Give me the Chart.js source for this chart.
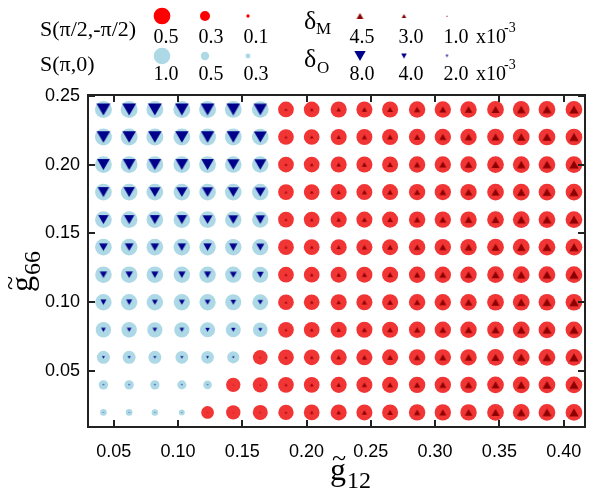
<!DOCTYPE html>
<html>
<head>
<meta charset="utf-8">
<script src="https://cdn.jsdelivr.net/npm/chart.js@4.4.0/dist/chart.umd.min.js"></script>
<style>
  body { margin: 0; background: #ffffff; }
  #contenedor { width: 598px; height: 492px; }
</style>
</head>
<body>
<div id="contenedor"><canvas id="mapa" width="598" height="492"></canvas></div>
<script>
// Rejilla de puntos
var xValues = [0.042, 0.062, 0.082, 0.103, 0.123, 0.143, 0.164, 0.184, 0.204, 0.225, 0.245, 0.265, 0.286, 0.306, 0.326, 0.347, 0.367, 0.387, 0.408];
var yValues = [0.24, 0.22, 0.20, 0.18, 0.16, 0.14, 0.12, 0.10, 0.08, 0.06, 0.04, 0.02];

// Nº de columnas (desde la izquierda) en fase S(π,0) para cada fila
var blueCols = [7, 7, 7, 7, 7, 7, 7, 7, 7, 6, 5, 4];

// Valor de S en cada punto: S(π,0) en la zona azul, S(π/2,-π/2) en la roja
var sValues = [
  [1.02, 1.02, 1.02, 1.02, 1.02, 1.01, 1.00, 0.47, 0.47, 0.48, 0.48, 0.48, 0.49, 0.49, 0.49, 0.50, 0.50, 0.50, 0.50],
  [1.02, 1.02, 1.02, 1.01, 1.01, 1.01, 1.00, 0.47, 0.47, 0.48, 0.48, 0.48, 0.49, 0.49, 0.49, 0.50, 0.50, 0.50, 0.50],
  [1.01, 1.01, 1.01, 1.01, 1.01, 1.00, 0.99, 0.47, 0.47, 0.48, 0.48, 0.48, 0.49, 0.49, 0.49, 0.50, 0.50, 0.50, 0.50],
  [1.01, 1.01, 1.01, 1.00, 1.00, 1.00, 0.99, 0.47, 0.47, 0.48, 0.48, 0.48, 0.49, 0.49, 0.49, 0.50, 0.50, 0.50, 0.50],
  [1.01, 1.01, 1.00, 1.00, 1.00, 0.99, 0.98, 0.47, 0.47, 0.48, 0.48, 0.48, 0.49, 0.49, 0.49, 0.50, 0.50, 0.50, 0.50],
  [1.00, 1.00, 1.00, 1.00, 0.99, 0.99, 0.98, 0.47, 0.47, 0.48, 0.48, 0.48, 0.49, 0.49, 0.49, 0.50, 0.50, 0.50, 0.50],
  [1.00, 1.00, 1.00, 0.99, 0.99, 0.98, 0.97, 0.47, 0.47, 0.48, 0.48, 0.48, 0.49, 0.49, 0.49, 0.50, 0.50, 0.50, 0.50],
  [0.99, 0.99, 0.99, 0.98, 0.98, 0.97, 0.95, 0.47, 0.47, 0.48, 0.48, 0.48, 0.49, 0.49, 0.49, 0.50, 0.50, 0.50, 0.50],
  [0.93, 0.93, 0.92, 0.92, 0.91, 0.90, 0.88, 0.47, 0.47, 0.48, 0.48, 0.48, 0.49, 0.49, 0.49, 0.50, 0.50, 0.50, 0.50],
  [0.78, 0.78, 0.78, 0.77, 0.76, 0.73, 0.44, 0.47, 0.47, 0.48, 0.48, 0.48, 0.49, 0.49, 0.49, 0.50, 0.50, 0.50, 0.50],
  [0.57, 0.57, 0.56, 0.55, 0.52, 0.43, 0.45, 0.47, 0.47, 0.48, 0.48, 0.48, 0.49, 0.49, 0.49, 0.50, 0.50, 0.50, 0.50],
  [0.40, 0.40, 0.39, 0.35, 0.38, 0.43, 0.45, 0.46, 0.47, 0.48, 0.48, 0.48, 0.49, 0.49, 0.49, 0.50, 0.50, 0.50, 0.50]
];

// Valor de delta (x10^-3): δO en la zona azul, δM en la roja
var deltaValues = [
  [9.8, 9.8, 9.8, 9.7, 9.7, 9.6, 9.4, 1.8, 2.4, 2.9, 3.4, 3.8, 4.2, 4.6, 5.0, 5.3, 5.6, 5.9, 6.2],
  [9.5, 9.5, 9.5, 9.4, 9.4, 9.3, 9.1, 1.8, 2.4, 2.9, 3.4, 3.8, 4.2, 4.6, 5.0, 5.3, 5.6, 5.9, 6.2],
  [8.9, 8.9, 8.9, 8.8, 8.8, 8.7, 8.5, 1.8, 2.4, 2.9, 3.4, 3.8, 4.2, 4.6, 5.0, 5.3, 5.6, 5.9, 6.2],
  [8.0, 8.0, 7.9, 7.9, 7.8, 7.7, 7.5, 1.8, 2.4, 2.9, 3.4, 3.8, 4.2, 4.6, 5.0, 5.3, 5.6, 5.9, 6.2],
  [7.3, 7.3, 7.2, 7.2, 7.1, 7.0, 6.8, 1.8, 2.4, 2.9, 3.4, 3.8, 4.2, 4.6, 5.0, 5.3, 5.6, 5.9, 6.2],
  [6.2, 6.2, 6.1, 6.1, 6.0, 5.9, 5.7, 1.8, 2.4, 2.9, 3.4, 3.8, 4.2, 4.6, 5.0, 5.3, 5.6, 5.9, 6.2],
  [5.3, 5.3, 5.2, 5.2, 5.1, 5.0, 4.8, 1.8, 2.4, 2.9, 3.4, 3.8, 4.2, 4.6, 5.0, 5.3, 5.6, 5.9, 6.2],
  [4.3, 4.3, 4.2, 4.2, 4.1, 4.0, 3.8, 1.8, 2.4, 2.9, 3.4, 3.8, 4.2, 4.6, 5.0, 5.3, 5.6, 5.9, 6.2],
  [3.4, 3.4, 3.3, 3.3, 3.2, 3.1, 2.9, 1.8, 2.4, 2.9, 3.4, 3.8, 4.2, 4.6, 5.0, 5.3, 5.6, 5.9, 6.2],
  [2.1, 2.1, 2.0, 2.0, 1.9, 1.8, 1.1, 1.8, 2.4, 2.9, 3.4, 3.8, 4.2, 4.6, 5.0, 5.3, 5.6, 5.9, 6.2],
  [1.3, 1.3, 1.2, 1.2, 1.1, 0.9, 1.1, 1.8, 2.4, 2.9, 3.4, 3.8, 4.2, 4.6, 5.0, 5.3, 5.6, 5.9, 6.2],
  [0.8, 0.8, 0.7, 0.7, 0.7, 0.9, 1.1, 1.7, 2.3, 2.9, 3.4, 3.8, 4.2, 4.6, 5.0, 5.3, 5.6, 5.9, 6.2]
];

// Marcas de los ejes
var xTicks = [0.05, 0.10, 0.15, 0.20, 0.25, 0.30, 0.35, 0.40];
var yTicks = [0.05, 0.10, 0.15, 0.20, 0.25];

// Valores de la leyenda
var legendRed = [0.5, 0.3, 0.1];
var legendBlue = [1.0, 0.5, 0.3];
var legendDeltaM = [4.5, 3.0, 1.0];
var legendDeltaO = [8.0, 4.0, 2.0];

// Tamaño de los símbolos según el valor
function radioRojo(s) { return 16.7 * s; }
function radioAzul(s) { return 8.3 * s; }
function radioDeltaM(d) { return 0.87 * d; }
function radioDeltaO(d) { return 0.82 * d; }

var colorRojo = "rgba(240, 30, 30, 0.9)";
var colorAzul = "#add8e6";
var colorDeltaM = "#8b0000";
var colorDeltaO = "#00008b";

// Triángulos centrados (los de Chart.js quedan desplazados), se guardan en caché
var cacheTriangulos = {};
function trianguloCanvas(radio, haciaAbajo, color) {
  var clave = radio.toFixed(2) + (haciaAbajo ? "a" : "b") + color;
  if (cacheTriangulos[clave]) return cacheTriangulos[clave];
  var ancho = Math.sqrt(3) * radio;
  var alto = 1.5 * radio;
  var cw = Math.ceil(ancho) + 2;
  var ch = Math.ceil(alto) + 2;
  var c = document.createElement("canvas");
  c.width = cw;
  c.height = ch;
  var g = c.getContext("2d");
  var x0 = (cw - ancho) / 2;
  var y0 = (ch - alto) / 2;
  g.fillStyle = color;
  g.beginPath();
  if (haciaAbajo) {
    g.moveTo(x0, y0);
    g.lineTo(x0 + ancho, y0);
    g.lineTo(x0 + ancho / 2, y0 + alto);
  } else {
    g.moveTo(x0, y0 + alto);
    g.lineTo(x0 + ancho, y0 + alto);
    g.lineTo(x0 + ancho / 2, y0);
  }
  g.closePath();
  g.fill();
  cacheTriangulos[clave] = c;
  return c;
}

// Separamos los puntos en las cuatro series
function construyeSeries() {
  var rojos = [], azules = [], deltaM = [], deltaO = [];
  yValues.forEach(function (y, fila) {
    xValues.forEach(function (x, col) {
      var s = sValues[fila][col];
      var d = deltaValues[fila][col];
      if (col < blueCols[fila]) {
        azules.push({ x: x, y: y, v: s });
        deltaO.push({ x: x, y: y, v: d });
      } else {
        rojos.push({ x: x, y: y, v: s });
        deltaM.push({ x: x, y: y, v: d });
      }
    });
  });
  return { rojos: rojos, azules: azules, deltaM: deltaM, deltaO: deltaO };
}

function dibujaSimbolo(ctx, estilo, radio, x, y, color) {
  ctx.fillStyle = color;
  Chart.helpers.drawPoint(ctx, { pointStyle: estilo, radius: radio, rotation: 0, borderWidth: 0 }, x, y);
}

// Marco, marcas interiores, leyenda y títulos de los ejes
var marcoPlugin = {
  id: "marco",
  afterDraw: function (chart) {
    var ctx = chart.ctx;
    var area = chart.chartArea;
    var xs = chart.scales.x;
    var ys = chart.scales.y;
    ctx.save();

    ctx.strokeStyle = "#222222";
    ctx.lineWidth = 2;
    ctx.strokeRect(area.left, area.top, area.right - area.left, area.bottom - area.top);
    ctx.beginPath();
    xTicks.forEach(function (v) {
      var px = Math.round(xs.getPixelForValue(v));
      ctx.moveTo(px, area.bottom); ctx.lineTo(px, area.bottom - 7);
      ctx.moveTo(px, area.top); ctx.lineTo(px, area.top + 7);
    });
    yTicks.forEach(function (v) {
      var py = Math.round(ys.getPixelForValue(v));
      ctx.moveTo(area.left, py); ctx.lineTo(area.left + 7, py);
      ctx.moveTo(area.right, py); ctx.lineTo(area.right - 7, py);
    });
    ctx.stroke();

    // Leyenda de arriba
    var colsIzq = [162, 205, 248];
    var colsDer = [360, 404, 447];
    var textosIzq = [166, 211, 256];
    var textosDer = [362, 411, 456];

    ctx.fillStyle = "#000000";
    ctx.textBaseline = "alphabetic";
    ctx.textAlign = "left";
    ctx.font = '22px "Liberation Serif"';
    ctx.fillText("S(π/2,-π/2)", 40, 36);
    ctx.fillText("S(π,0)", 40, 71);

    legendRed.forEach(function (v, i) {
      dibujaSimbolo(ctx, "circle", radioRojo(v), colsIzq[i], 16, "#ff0000");
    });
    legendBlue.forEach(function (v, i) {
      dibujaSimbolo(ctx, "circle", radioAzul(v), colsIzq[i], 56, colorAzul);
    });
    legendDeltaM.forEach(function (v, i) {
      dibujaSimbolo(ctx, trianguloCanvas(radioDeltaM(v), false, colorDeltaM), 1, colsDer[i], 16, colorDeltaM);
    });
    legendDeltaO.forEach(function (v, i) {
      dibujaSimbolo(ctx, trianguloCanvas(radioDeltaO(v), true, colorDeltaO), 1, colsDer[i], 56, colorDeltaO);
    });

    ctx.fillStyle = "#000000";
    ctx.textAlign = "center";
    ctx.font = '20px "Liberation Serif"';
    legendRed.forEach(function (v, i) { ctx.fillText(v.toFixed(1), textosIzq[i], 43); });
    legendBlue.forEach(function (v, i) { ctx.fillText(v.toFixed(1), textosIzq[i], 80); });
    legendDeltaM.forEach(function (v, i) { ctx.fillText(v.toFixed(1), textosDer[i], 43); });
    legendDeltaO.forEach(function (v, i) { ctx.fillText(v.toFixed(1), textosDer[i], 80); });

    ctx.textAlign = "left";
    ctx.fillText("x10", 476, 43);
    ctx.fillText("x10", 476, 80);
    ctx.font = '14px "Liberation Serif"';
    ctx.fillText("-3", 504, 32);
    ctx.fillText("-3", 504, 69);

    ctx.font = '26px "Liberation Serif"';
    ctx.fillText("δ", 304, 29);
    ctx.fillText("δ", 304, 67);
    ctx.font = '17px "Liberation Serif"';
    ctx.fillText("M", 316, 34);
    ctx.fillText("O", 317, 73);

    // Título del eje x
    ctx.font = '32px "Liberation Serif"';
    ctx.fillText("g", 330, 480);
    ctx.font = '24px "Liberation Serif"';
    ctx.fillText("12", 347, 488);
    ctx.font = '26px "Liberation Serif"';
    ctx.textAlign = "center";
    ctx.fillText("~", 339, 466);

    // Título del eje y (girado)
    ctx.translate(32, 292);
    ctx.rotate(-Math.PI / 2);
    ctx.textAlign = "left";
    ctx.font = '32px "Liberation Serif"';
    ctx.fillText("g", 0, 0);
    ctx.font = '24px "Liberation Serif"';
    ctx.fillText("66", 17, 8);
    ctx.font = '26px "Liberation Serif"';
    ctx.textAlign = "center";
    ctx.fillText("~", 9, -14);

    ctx.restore();
  }
};

function cargaGrafico() {
  var series = construyeSeries();

  var config = {
    type: "scatter",
    data: {
      datasets: [
        {
          label: "δM",
          data: series.deltaM,
          pointStyle: function (c) { return trianguloCanvas(radioDeltaM(c.raw.v), false, colorDeltaM); },
          backgroundColor: colorDeltaM,
          borderWidth: 0,
          pointRadius: function (c) { return radioDeltaM(c.raw.v); }
        },
        {
          label: "δO",
          data: series.deltaO,
          pointStyle: function (c) { return trianguloCanvas(radioDeltaO(c.raw.v), true, colorDeltaO); },
          backgroundColor: colorDeltaO,
          borderWidth: 0,
          pointRadius: function (c) { return radioDeltaO(c.raw.v); }
        },
        {
          label: "S(π/2,-π/2)",
          data: series.rojos,
          pointStyle: "circle",
          backgroundColor: colorRojo,
          borderWidth: 0,
          pointRadius: function (c) { return radioRojo(c.raw.v); }
        },
        {
          label: "S(π,0)",
          data: series.azules,
          pointStyle: "circle",
          backgroundColor: colorAzul,
          borderWidth: 0,
          pointRadius: function (c) { return radioAzul(c.raw.v); }
        }
      ]
    },
    options: {
      responsive: false,
      devicePixelRatio: 1,
      animation: false,
      events: [],
      layout: { padding: { left: 0, top: 95, right: 13, bottom: 0 } },
      plugins: {
        legend: { display: false },
        tooltip: { enabled: false }
      },
      scales: {
        x: {
          type: "linear",
          min: 0.030,
          max: 0.4166,
          afterBuildTicks: function (s) { s.ticks = xTicks.map(function (v) { return { value: v }; }); },
          afterFit: function (s) { s.height = 65; },
          grid: { display: false, drawTicks: false },
          border: { display: false },
          ticks: {
            padding: 14,
            color: "#000000",
            maxRotation: 0,
            autoSkip: false,
            font: { family: "Liberation Sans", size: 18 },
            callback: function (v) { return Number(v).toFixed(2); }
          }
        },
        y: {
          type: "linear",
          min: 0.0094,
          max: 0.2505,
          afterBuildTicks: function (s) { s.ticks = yTicks.map(function (v) { return { value: v }; }); },
          afterFit: function (s) { s.width = 88; },
          grid: { display: false, drawTicks: false },
          border: { display: false },
          ticks: {
            padding: 8,
            color: "#000000",
            autoSkip: false,
            font: { family: "Liberation Sans", size: 18 },
            callback: function (v) { return Number(v).toFixed(2); }
          }
        }
      }
    },
    plugins: [marcoPlugin]
  };

  var grafico = document.getElementById("mapa").getContext("2d");
  new Chart(grafico, config);
}

document.addEventListener("DOMContentLoaded", function () {
  cargaGrafico();
});
</script>
</body>
</html>
